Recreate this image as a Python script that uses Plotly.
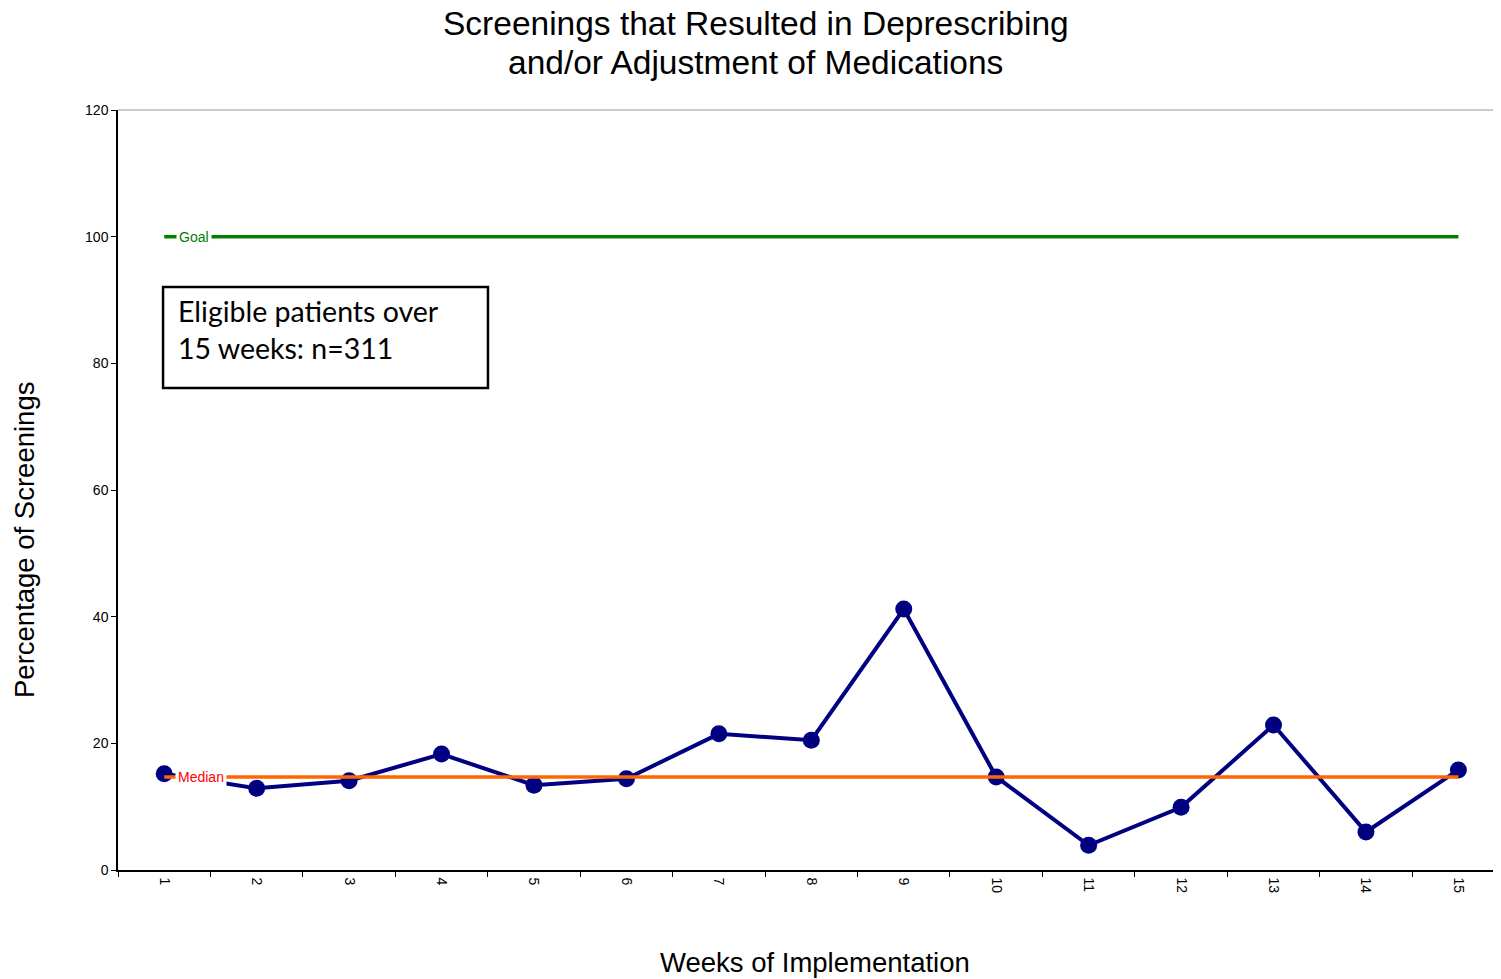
import plotly.graph_objects as go

weeks = ["1", "2", "3", "4", "5", "6", "7", "8", "9", "10", "11", "12", "13", "14", "15"]
pct_screenings = [15.2, 12.9, 14.1, 18.3, 13.4, 14.4, 21.5, 20.5, 41.2, 14.7, 3.9, 9.9, 22.9, 6.0, 15.8]
goal_value = 100
median_value = 14.7
y_ticks = [0, 20, 40, 60, 80, 100, 120]

fig = go.Figure()

fig.add_trace(go.Scatter(
    x=weeks, y=pct_screenings, mode="lines+markers",
    line=dict(color="#000080", width=4),
    marker=dict(color="#000080", size=17),
    hoverinfo="skip", showlegend=False,
))
fig.add_trace(go.Scatter(
    x=[weeks[0], weeks[-1]], y=[median_value, median_value], mode="lines",
    line=dict(color="#FF6600", width=3.5),
    hoverinfo="skip", showlegend=False,
))
fig.add_trace(go.Scatter(
    x=[weeks[0], weeks[-1]], y=[goal_value, goal_value], mode="lines",
    line=dict(color="#008000", width=3.5),
    hoverinfo="skip", showlegend=False,
))

fig.add_annotation(x=0.32, y=goal_value, xref="x", yref="y", text="Goal",
                   showarrow=False, bgcolor="white",
                   font=dict(family="Arial", size=14, color="#008000"), borderpad=2)
fig.add_annotation(x=0.4, y=median_value, xref="x", yref="y", text="Median",
                   showarrow=False, bgcolor="white",
                   font=dict(family="Arial", size=14, color="#FF0000"), borderpad=2)

# text box
fig.add_shape(type="rect", xref="paper", yref="y", x0=0.0326, x1=0.2677, y0=76.1, y1=92.05,
              line=dict(color="black", width=2.5), fillcolor="white", layer="above")
fig.add_annotation(xref="paper", yref="y", x=0.042, y=91.2, xanchor="left", yanchor="top",
                   align="left", showarrow=False,
                   text="Eligible patients over<br>15 weeks: n=311",
                   font=dict(family="Lato", size=28.5, color="black"))

# top border
fig.add_shape(type="line", xref="paper", yref="paper", x0=0, x1=1, y0=1, y1=1,
              line=dict(color="#999999", width=1))

# title lines
fig.add_annotation(xref="paper", yref="paper", x=0.4616, y=(870 - 23) / 760,
                   xanchor="center", yanchor="middle", showarrow=False, borderpad=0,
                   text="Screenings that Resulted in Deprescribing",
                   font=dict(family="Arial", size=33.5, color="black"))
fig.add_annotation(xref="paper", yref="paper", x=0.4616, y=(870 - 62) / 760,
                   xanchor="center", yanchor="middle", showarrow=False, borderpad=0,
                   text="and/or Adjustment of Medications",
                   font=dict(family="Arial", size=33.5, color="black"))

# axis titles
fig.add_annotation(xref="paper", yref="paper", x=(24 - 118) / 1382, y=(870 - 540) / 760,
                   xanchor="center", yanchor="middle",
                   text="Percentage of Screenings", textangle=-90, showarrow=False,
                   font=dict(family="Arial", size=27.5, color="black"))
fig.add_annotation(xref="paper", yref="paper", x=(815 - 118) / 1382, y=(870 - 962) / 760,
                   xanchor="center", yanchor="middle",
                   text="Weeks of Implementation", showarrow=False,
                   font=dict(family="Arial", size=27.5, color="black"))

fig.update_layout(
    width=1493, height=971,
    margin=dict(l=110, r=1, t=102, b=109),
    paper_bgcolor="white", plot_bgcolor="white",
    xaxis=dict(type="category", range=[-0.5, 14.45], tickson="boundaries",
               ticks="outside", ticklen=5, tickcolor="black", tickangle=90,
               ticklabelstandoff=3,
               showline=True, linecolor="black", linewidth=1.5, showgrid=False,
               tickfont=dict(family="Arial", size=14, color="black")),
    yaxis=dict(range=[0, 120], tickvals=y_ticks, ticks="outside", ticklen=5,
               tickcolor="black", showline=True, linecolor="black", linewidth=1.5,
               showgrid=False, zeroline=False,
               tickfont=dict(family="Arial", size=14, color="black")),
)

fig.write_html("out.html")
